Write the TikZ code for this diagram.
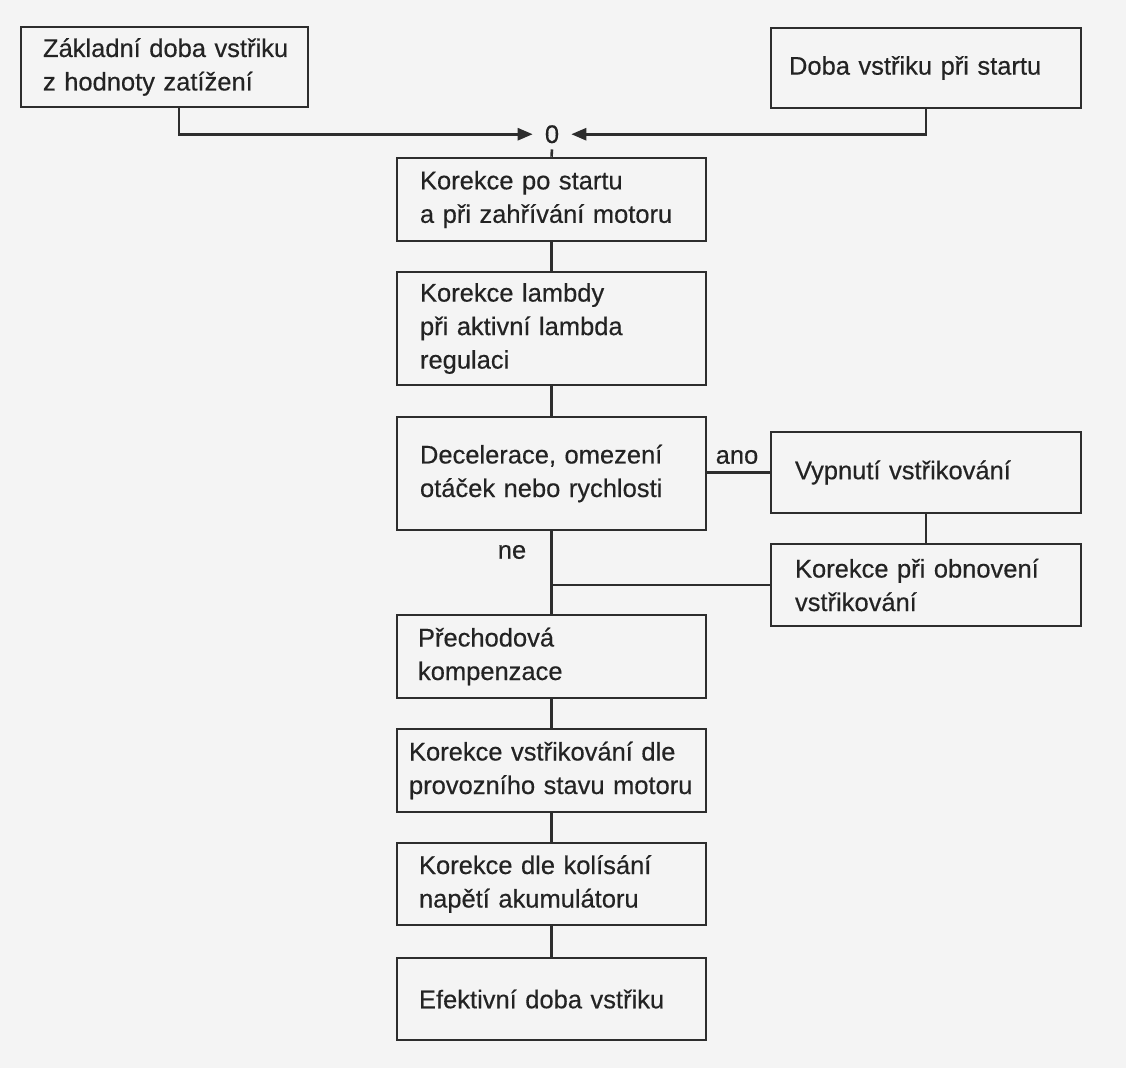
\documentclass[tikz,border=0pt]{standalone}
\usepackage{fontspec}
\setmainfont[FakeBold=0.4]{Liberation Sans}
\usetikzlibrary{arrows.meta}
\definecolor{bg}{RGB}{244,244,244}
\definecolor{ink}{RGB}{45,45,45}
\definecolor{txt}{RGB}{35,35,35}
\begin{document}
\begin{tikzpicture}[x=1pt,y=-1pt,
  box/.style={draw=ink, line width=2.6pt, align=left, text=txt,
    font=\fontsize{25.5}{33.5}\selectfont, inner ysep=0pt, anchor=center},
  lbl/.style={text=txt, font=\fontsize{25.5}{33.5}\selectfont, inner sep=0pt},
  conn/.style={draw=ink, line width=2.6pt},
  tip/.style={-{Triangle[length=15pt,width=12pt]}}]
\fill[bg] (0,0) rectangle (1126,1068);
\useasboundingbox (0,0) rectangle (1126,1068);

% boxes: centre, width = text width + 2 inner xsep, height
\node[box, inner xsep=22pt, text width=243pt, minimum height=80pt] (b1) at (164.5,67)
  {Základní~doba~vstřiku\\z~hodnoty~zatížení};
\node[box, inner xsep=18pt, text width=274pt, minimum height=80pt] (b2) at (926,68)
  {Doba~vstřiku~při~startu};
\node[box, inner xsep=23pt, text width=263pt, minimum height=83pt] (b3) at (551.5,199.5)
  {Korekce~po~startu\\a~při~zahřívání~motoru};
\node[box, inner xsep=23pt, text width=263pt, minimum height=113pt] (b4) at (551.5,328.5)
  {Korekce~lambdy\\při~aktivní~lambda\\regulaci};
\node[box, inner xsep=23pt, text width=263pt, minimum height=113pt] (b5) at (551.5,473.5)
  {Decelerace,~omezení\\otáček~nebo~rychlosti};
\node[box, inner xsep=24pt, text width=262pt, minimum height=81pt] (b6) at (926,472.5)
  {Vypnutí~vstřikování};
\node[box, inner xsep=24pt, text width=262pt, minimum height=82pt] (b7) at (926,585)
  {Korekce~při~obnovení\\vstřikování};
\node[box, inner xsep=21pt, text width=267pt, minimum height=83pt] (b8) at (551.5,656.5)
  {Přechodová\\kompenzace};
\node[box, inner xsep=12pt, text width=285pt, minimum height=83pt] (b9) at (551.5,770.5)
  {Korekce~vstřikování~dle\\provozního~stavu~motoru};
\node[box, inner xsep=22pt, text width=265pt, minimum height=82pt] (b10) at (551.5,884)
  {Korekce~dle~kolísání\\napětí~akumulátoru};
\node[box, inner xsep=22pt, text width=265pt, minimum height=82pt] (b11) at (551.5,999)
  {Efektivní~doba~vstřiku};

% summing point
\node[lbl, inner xsep=12pt, inner ysep=6pt, anchor=base] (zero) at (552,143) {0};
\coordinate (c1) at (179,0);

% labels
\node[lbl] (ano) at (737,457) {ano};
\node[lbl] (ne) at (512,552) {ne};

% connectors
\draw[conn,tip] (b1.south -| c1) |- (zero.west);
\draw[conn,tip] (b2.south) |- (zero.east);
\draw[conn] (zero.south) -- (b3.north);
\draw[conn] (b3.south) -- (b4.north);
\draw[conn] (b4.south) -- (b5.north);
\draw[conn] (b5.south) -- (b8.north);
\draw[conn] (b6.west) -- (b6.west -| b5.east);
\draw[conn] (b6.south) -- (b7.north);
\draw[conn] (b7.west) -- (b7.west -| b5.south);
\draw[conn] (b8.south) -- (b9.north);
\draw[conn] (b9.south) -- (b10.north);
\draw[conn] (b10.south) -- (b11.north);
\end{tikzpicture}
\end{document}
